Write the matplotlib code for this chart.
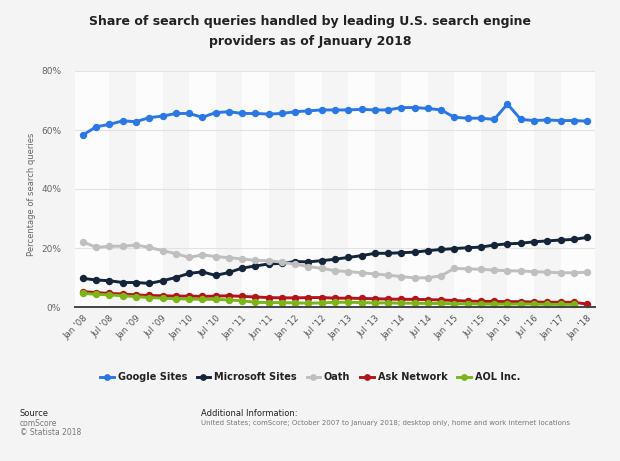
import matplotlib
matplotlib.use("Agg")
import matplotlib.pyplot as plt
import numpy as np

tick_labels = ["Jan '08", "Jul '08", "Jan '09", "Jul '09", "Jan '10", "Jul '10",
               "Jan '11", "Jun '11", "Jan '12", "Jul '12", "Jan '13", "Jul '13",
               "Jan '14", "Jul '14", "Jan '15", "Jul '15", "Jan '16", "Jul '16",
               "Jan '17", "Jan '18"]

google = [58.3, 61.1, 61.9, 63.1, 62.8, 64.2, 64.7, 65.6, 65.6, 64.3,
          65.9, 66.2, 65.6, 65.6, 65.4, 65.6, 66.2, 66.5, 66.8, 66.8,
          66.8, 67.0, 66.8, 66.8, 67.6, 67.6, 67.3, 66.8, 64.3, 64.0,
          64.0, 63.6, 68.8, 63.6, 63.2, 63.4, 63.2, 63.2, 63.0]
microsoft = [9.7, 9.15, 8.9, 8.3, 8.3, 8.0, 8.9, 10.0, 11.4, 11.9,
             10.7, 11.7, 13.2, 13.9, 14.6, 14.8, 15.4, 15.3, 15.7, 16.2,
             16.8, 17.4, 18.2, 18.2, 18.4, 18.6, 19.1, 19.5, 19.8, 20.1,
             20.3, 21.0, 21.4, 21.6, 22.1, 22.4, 22.7, 22.9, 23.6]
oath = [22.1, 20.2, 20.6, 20.6, 21.0, 20.2, 19.1, 18.1, 16.8, 17.7,
        17.1, 16.7, 16.3, 15.8, 15.7, 15.2, 14.5, 13.7, 13.1, 12.3,
        12.0, 11.6, 11.2, 10.8, 10.3, 9.9, 9.9, 10.6, 13.1, 12.9,
        12.8, 12.5, 12.3, 12.2, 12.0, 11.8, 11.6, 11.6, 11.8]
ask = [5.2, 4.9, 4.6, 4.4, 4.1, 3.9, 3.8, 3.7, 3.7, 3.6,
       3.7, 3.8, 3.6, 3.4, 3.2, 3.1, 3.1, 3.2, 3.2, 3.0,
       3.0, 2.9, 2.8, 2.7, 2.6, 2.6, 2.5, 2.4, 2.2, 2.0,
       1.9, 1.9, 1.8, 1.8, 1.7, 1.6, 1.6, 1.6, 1.0]
aol = [4.6, 4.3, 4.1, 3.8, 3.5, 3.2, 3.0, 2.8, 2.7, 2.6,
       2.6, 2.4, 2.1, 1.6, 1.5, 1.5, 1.4, 1.3, 1.4, 1.6,
       1.6, 1.5, 1.4, 1.4, 1.3, 1.3, 1.2, 1.2, 1.1, 1.1,
       1.0, 1.0, 1.0, 1.0, 1.0, 0.9, 0.9, 0.9]

series = [("Google Sites", google, "#2b78e4"),
          ("Microsoft Sites", microsoft, "#14253a"),
          ("Oath", oath, "#bfbfbf"),
          ("Ask Network", ask, "#b3131b"),
          ("AOL Inc.", aol, "#7cb518")]

BG = "#f4f4f4"
fig = plt.figure(figsize=(6.2, 4.61), dpi=100, facecolor=BG)
ax = fig.add_axes([75/620, 1-307/461, 520/620, (307-71)/461])
ax.set_facecolor("#fcfcfc")

n = len(google)
ax.set_xlim(-0.6, n - 1 + 0.6)
ax.set_ylim(0, 80)

# alternating vertical bands
for k in range(0, n - 1, 2):
    if (k // 2) % 2 == 1:
        ax.axvspan(k, k + 2, color="#f5f5f5", zorder=0, lw=0)

for y in [20, 40, 60, 80]:
    ax.axhline(y, color="#e2e2e2", lw=0.8, zorder=1)

for name, vals, col in series:
    x = np.arange(len(vals))
    ax.plot(x, vals, color=col, lw=2.1, marker="o", ms=4.3, label=name,
            zorder=3, clip_on=False)

for s in ["top", "right", "left"]:
    ax.spines[s].set_visible(False)
ax.spines["bottom"].set_color("#444444")
ax.spines["bottom"].set_linewidth(1.4)
ax.spines["bottom"].set_zorder(4)

ax.set_yticks([0, 20, 40, 60, 80])
ax.set_yticklabels(["0%", "20%", "40%", "60%", "80%"], fontsize=6.5, color="#666666")
ax.set_xticks(np.arange(0, n, 2))
ax.set_xticklabels(tick_labels, rotation=45, ha="right", rotation_mode="anchor",
                   fontsize=6.3, color="#555555")
ax.tick_params(axis="both", length=0)
ax.tick_params(axis="y", pad=10)
ax.tick_params(axis="x", pad=5)

fig.text(32/620, 1-194/461, "Percentage of search queries", rotation=90,
         ha="center", va="center", fontsize=6, color="#666666")

fig.text(0.5, 1-22/461, "Share of search queries handled by leading U.S. search engine",
         ha="center", va="center", fontsize=9, fontweight="bold", color="#222222")
fig.text(0.5, 1-41/461, "providers as of January 2018",
         ha="center", va="center", fontsize=9, fontweight="bold", color="#222222")

leg = fig.legend(loc="center", bbox_to_anchor=(0.5, 1-377/461), ncol=5, frameon=False,
                 prop={"size": 7, "weight": "bold"}, handlelength=1.4, handletextpad=0.4,
                 columnspacing=1.0, markerscale=0.9)
for t in leg.get_texts():
    t.set_color("#222222")

fig.text(20/620, 1-413/461, "Source", fontsize=6, color="#222222", va="center")
fig.text(20/620, 1-423/461, "comScore", fontsize=5.5, color="#777777", va="center")
fig.text(20/620, 1-432/461, "\u00a9 Statista 2018", fontsize=5.5, color="#777777", va="center")
fig.text(201/620, 1-413/461, "Additional Information:", fontsize=6, color="#222222", va="center")
fig.text(201/620, 1-423/461,
         "United States; comScore; October 2007 to January 2018; desktop only, home and work internet locations",
         fontsize=5.0, color="#777777", va="center")

fig.savefig("out.png", dpi=100, facecolor=BG)
